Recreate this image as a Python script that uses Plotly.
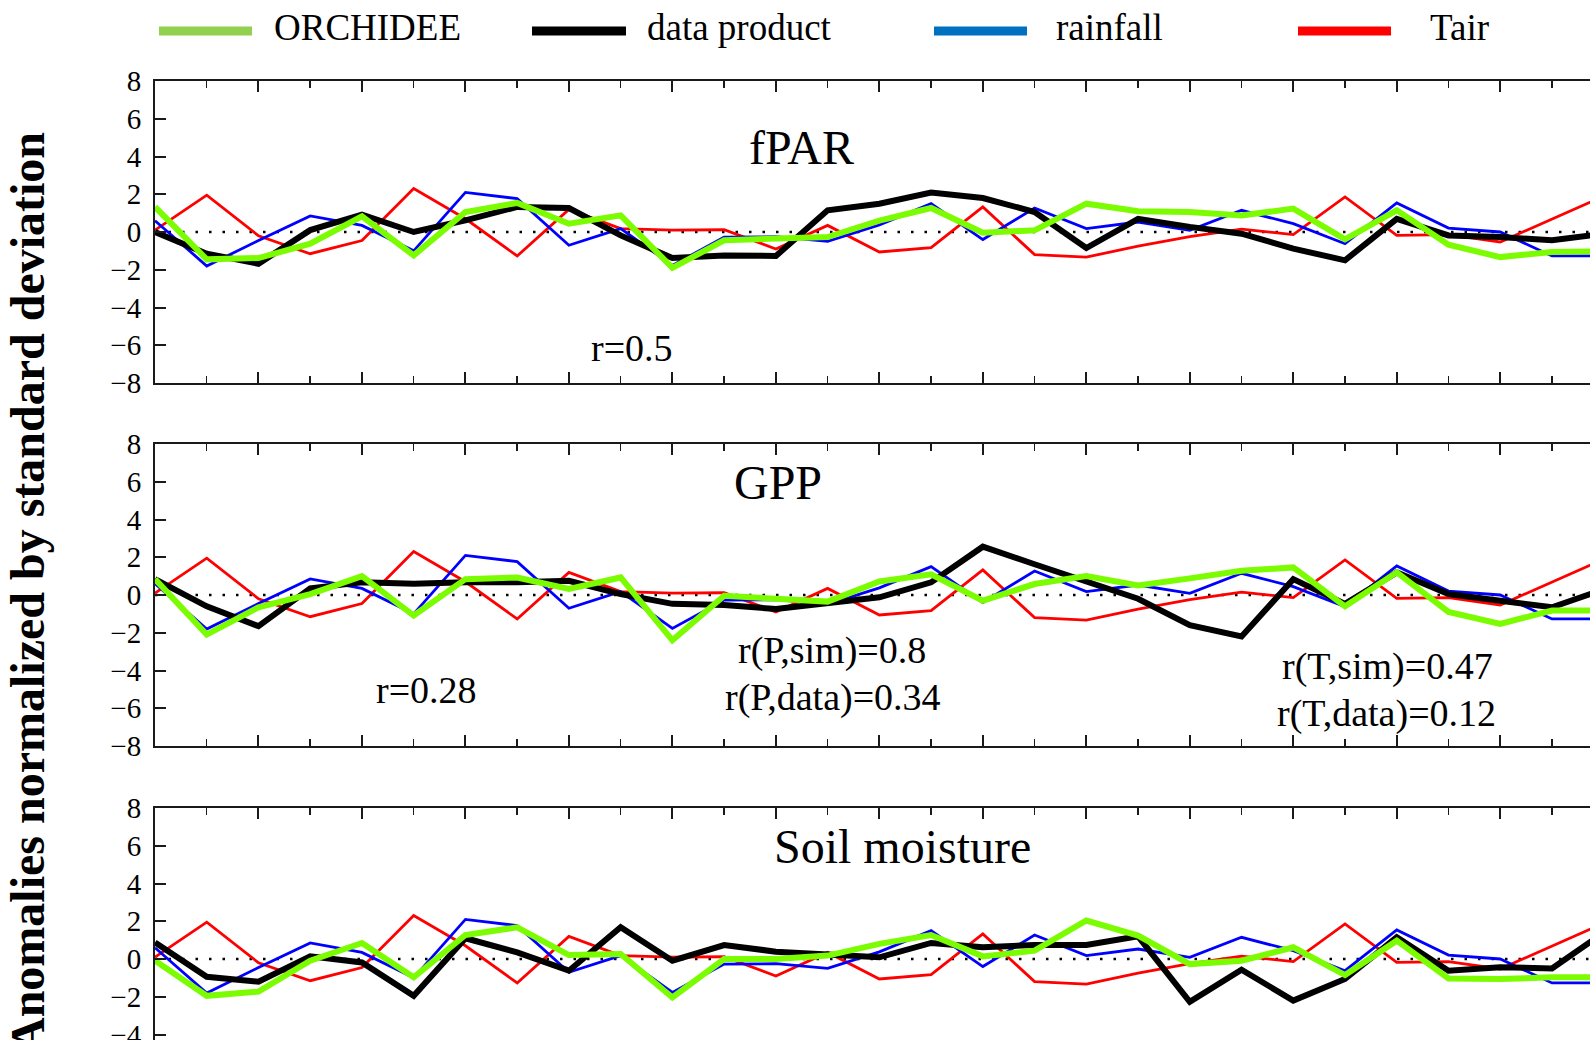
import plotly.graph_objects as go

# ---------------- data ----------------
years = list(range(1982, 2011))

rainfall = [0.6, -1.8, -0.45, 0.85, 0.35, -1.0, 2.1, 1.77, -0.7, 0.18,
            -1.77, -0.27, -0.25, -0.5, 0.38, 1.5, -0.4, 1.27, 0.18, 0.53,
            0.09, 1.15, 0.44, -0.62, 1.54, 0.21, 0.0, -1.27, -1.27]
tair = [0.1, 1.95, -0.2, -1.15, -0.45, 2.3, 0.7, -1.27, 1.2, 0.18,
        0.1, 0.12, -0.9, 0.35, -1.06, -0.83, 1.33, -1.2, -1.33, -0.75,
        -0.25, 0.15, -0.14, 1.86, -0.18, -0.14, -0.53, 0.69, 1.9]

fpar_data = [0.0, -1.15, -1.68, 0.1, 0.92, 0.0, 0.62, 1.33, 1.27, -0.18,
             -1.38, -1.24, -1.27, 1.15, 1.5, 2.09, 1.8, 1.06, -0.85, 0.7,
             0.27, -0.09, -0.88, -1.5, 0.7, -0.18, -0.27, -0.44, -0.1]
fpar_sim = [1.33, -1.45, -1.38, -0.62, 0.83, -1.24, 1.06, 1.54, 0.44, 0.88,
            -1.9, -0.44, -0.35, -0.27, 0.6, 1.27, -0.04, 0.09, 1.5, 1.1,
            1.06, 0.88, 1.24, -0.39, 1.15, -0.67, -1.33, -1.06, -1.03]

gpp_data = [0.84, -0.6, -1.65, 0.35, 0.67, 0.6, 0.67, 0.67, 0.75, 0.05,
            -0.47, -0.53, -0.74, -0.42, -0.12, 0.67, 2.56, 1.63, 0.7, -0.2,
            -1.6, -2.2, 0.84, -0.47, 1.2, 0.05, -0.3, -0.65, 0.3]
gpp_sim = [0.84, -2.1, -0.65, 0.05, 1.0, -1.09, 0.84, 0.93, 0.32, 0.93,
           -2.4, -0.04, -0.2, -0.35, 0.72, 1.1, -0.3, 0.58, 1.0, 0.5,
           0.88, 1.28, 1.46, -0.6, 1.2, -0.9, -1.53, -0.82, -0.82]

soil_data = [0.88, -0.94, -1.2, 0.14, -0.18, -1.95, 1.1, 0.35, -0.62, 1.68,
             -0.09, 0.74, 0.39, 0.27, 0.09, 0.85, 0.62, 0.74, 0.74, 1.2,
             -2.27, -0.57, -2.2, -1.06, 1.15, -0.62, -0.44, -0.5, 1.4]
soil_sim = [-0.09, -1.95, -1.73, -0.09, 0.85, -0.97, 1.27, 1.68, 0.21, 0.27,
            -2.04, 0.0, 0.0, 0.18, 0.8, 1.27, 0.14, 0.44, 2.04, 1.24,
            -0.27, -0.09, 0.62, -0.85, 0.97, -1.03, -1.06, -0.97, -0.97]

panel_titles = ["fPAR", "GPP", "Soil moisture"]
series_names = ["ORCHIDEE", "data product", "rainfall", "Tair"]
ytick_vals = [-8, -6, -4, -2, 0, 2, 4, 6, 8]
ytitle = "Anomalies normalized by standard deviation"
r_labels = [
    ("r=0.5", 632, 348),
    ("r=0.28", 426, 690),
    ("r(P,sim)=0.8", 832, 650),
    ("r(P,data)=0.34", 833, 697),
    ("r(T,sim)=0.47", 1387, 666),
    ("r(T,data)=0.12", 1386, 713),
]

# ---------------- layout helpers ----------------
W, H = 1590, 1040
def px(x):
    return x / W
def py(y):
    return (H - y) / H

C_SIM = "#7CFC00"
C_DATA = "#000000"
C_RAIN = "#0000FF"
C_TAIR = "#FF0000"
LEG_COLORS = ["#92D050", "#000000", "#0070C0", "#FF0000"]
SERIF = "Liberation Serif, Times New Roman, serif"
AXC = "#1a1a1a"

x_left = 155
unit = 51.74
x0 = years[0]
x1 = x0 + (W - x_left) / unit

# panel pixel extents (top, bottom)
panels = [(81, 383), (444, 746), (808, None)]
panel_sims = [fpar_sim, gpp_sim, soil_sim]
panel_datas = [fpar_data, gpp_data, soil_data]

fig = go.Figure()
layout = dict(
    template="none",
    width=W, height=H, autosize=False,
    margin=dict(l=0, r=0, t=0, b=0, pad=0, autoexpand=False),
    paper_bgcolor="white", plot_bgcolor="white",
    showlegend=False,
    font=dict(family=SERIF, color="black"),
)

shapes = []
annotations = []
for k in range(3):
    sfx = "" if k == 0 else str(k + 1)
    xa, ya = "x" + sfx, "y" + sfx
    top, bot = panels[k]
    if bot is None:
        ppu = 302 / 16.0
        ymin = 8 - (H - top) / ppu
        ydom = [0, py(top)]
    else:
        ymin = -8
        ydom = [py(bot), py(top)]

    for name, ys, col, w in [("Tair", tair, C_TAIR, 2.8),
                             ("rainfall", rainfall, C_RAIN, 2.8),
                             ("data product", panel_datas[k], C_DATA, 6),
                             ("ORCHIDEE", panel_sims[k], C_SIM, 6)]:
        fig.add_trace(go.Scatter(x=years, y=ys, mode="lines", name=name,
                                 line=dict(color=col, width=w),
                                 xaxis=xa, yaxis=ya, showlegend=False))

    xaxis = dict(domain=[px(x_left), 1], range=[x0, x1], anchor=ya,
                 automargin=False,
                 showgrid=False, zeroline=False, showticklabels=False,
                 showline=True, linecolor=AXC, linewidth=2,
                 ticks="inside", ticklen=11, tickwidth=2, tickcolor=AXC,
                 tick0=x0, dtick=2,
                 minor=dict(ticks="inside", ticklen=7, tickwidth=1.5,
                            tickcolor=AXC, dtick=1, tick0=x0, showgrid=False))
    if bot is None:
        xaxis.update(side="top", mirror=False)
    else:
        xaxis.update(mirror="ticks")
    yaxis = dict(domain=ydom, range=[ymin, 8], anchor=xa,
                 automargin=False,
                 showgrid=False, zeroline=False,
                 showline=True, linecolor=AXC, linewidth=2,
                 ticks="inside", ticklen=11, tickwidth=2, tickcolor=AXC,
                 tickvals=ytick_vals,
                 ticktext=[("\u2212" + str(-v)) if v < 0 else str(v) for v in ytick_vals],
                 tickfont=dict(family=SERIF, size=29, color="black"),
                 ticklabelstandoff=6,
                 ticklabeloverflow="allow")
    layout["xaxis" + sfx] = xaxis
    layout["yaxis" + sfx] = yaxis

    # dotted zero line
    shapes.append(dict(type="line", xref=xa, yref=ya, x0=x0, x1=years[-1],
                       y0=0, y1=0, layer="below",
                       line=dict(color="black", width=2.5, dash="2.5px,11px")))

# panel titles
title_pos = [(801, 147), (778, 482), (902, 846)]
for t, (tx, ty) in zip(panel_titles, title_pos):
    annotations.append(dict(text=t, xref="paper", yref="paper", x=px(tx), y=py(ty),
                            xanchor="center", yanchor="middle", showarrow=False,
                            font=dict(family=SERIF, size=48, color="black")))

for txt, tx, ty in r_labels:
    annotations.append(dict(text=txt, xref="paper", yref="paper", x=px(tx), y=py(ty),
                            xanchor="center", yanchor="middle", showarrow=False,
                            font=dict(family=SERIF, size=38, color="black")))

# y-axis title
annotations.append(dict(text="<b>" + ytitle + "</b>", xref="paper", yref="paper",
                        x=px(27), y=py(592), xanchor="center", yanchor="middle",
                        textangle=-90, showarrow=False,
                        font=dict(family=SERIF, size=48, color="black")))

# manual legend along the top
leg_lines = [(159, 252), (532, 626), (934, 1027), (1298, 1391)]
leg_text_x = [272, 645, 1054, 1428]
for name, col, (a, b), tx in zip(series_names, LEG_COLORS, leg_lines, leg_text_x):
    shapes.append(dict(type="line", xref="paper", yref="paper",
                       x0=px(a), x1=px(b), y0=py(31), y1=py(31),
                       line=dict(color=col, width=9)))
    annotations.append(dict(text=name, xref="paper", yref="paper",
                            x=px(tx), y=py(27), xanchor="left", yanchor="middle",
                            showarrow=False,
                            font=dict(family=SERIF, size=37, color="black")))

layout["shapes"] = shapes
layout["annotations"] = annotations
fig.update_layout(**layout)
fig.write_html("out.html",
               config={"displayModeBar": False, "staticPlot": True},
               post_script="document.body.style.margin='0';document.body.style.overflow='hidden';")
